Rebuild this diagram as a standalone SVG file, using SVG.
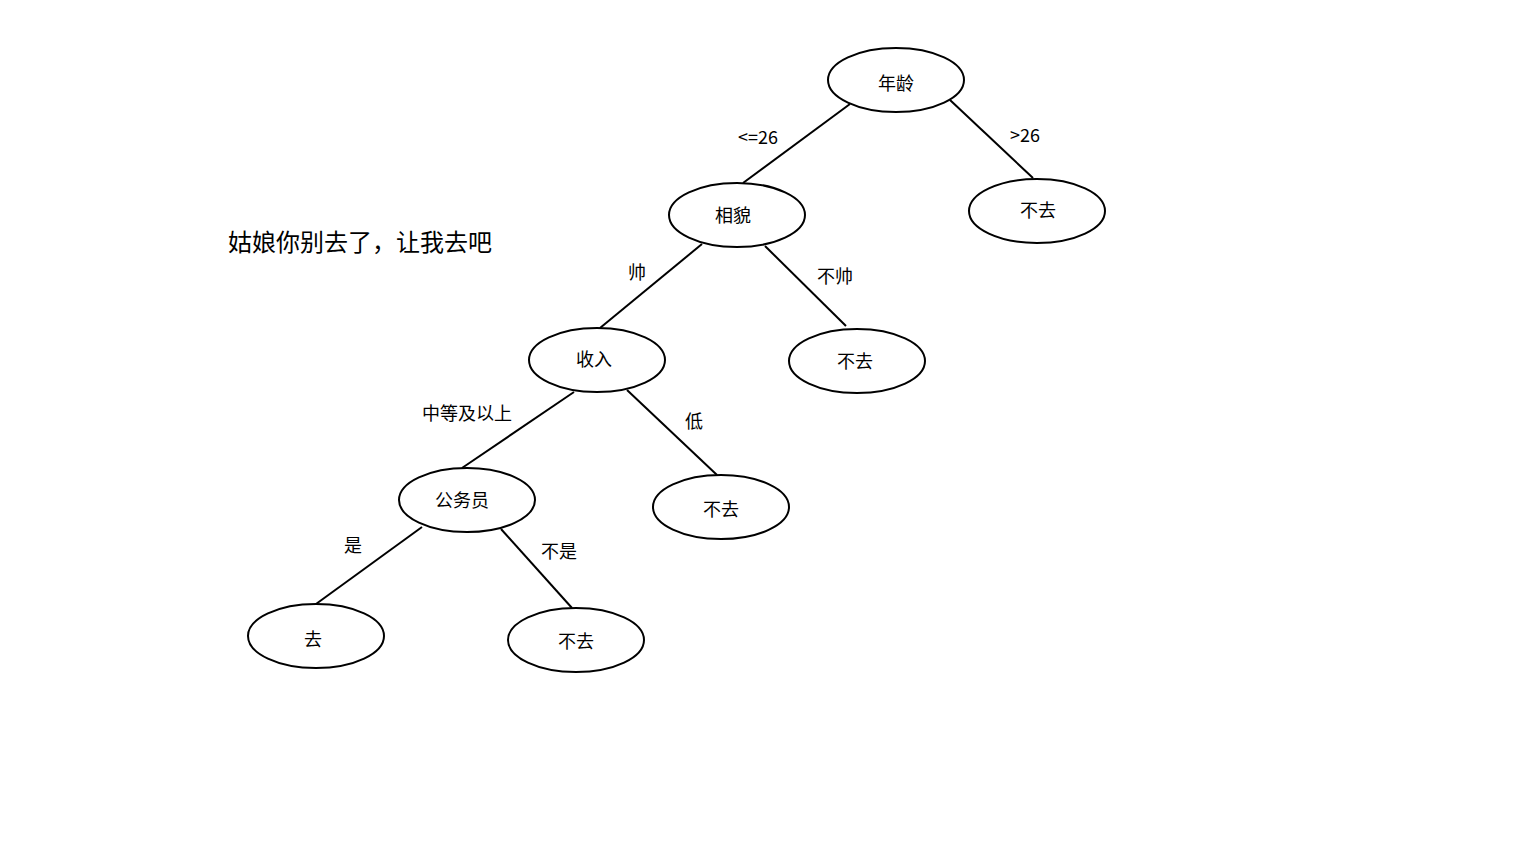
<svg xmlns="http://www.w3.org/2000/svg" width="1536" height="864" viewBox="0 0 1536 864">
<style>
.n{fill:#fff;stroke:#000;stroke-width:2}
.e{stroke:#000;stroke-width:2;fill:none}
text{font-family:"Noto Sans CJK SC","Noto Sans",sans-serif;font-size:18px;fill:#000}
.c{text-anchor:middle;dominant-baseline:central}
.t{font-size:24px}
</style>
<rect width="1536" height="864" fill="#fff"/>
<g id="connectors">
<line class="e" x1="850" y1="104" x2="743" y2="183"/>
<line class="e" x1="950" y1="100" x2="1033" y2="178"/>
<line class="e" x1="702" y1="244" x2="600" y2="328"/>
<line class="e" x1="765" y1="246" x2="846" y2="326"/>
<line class="e" x1="574" y1="392" x2="462" y2="468"/>
<line class="e" x1="627" y1="390" x2="717" y2="475"/>
<line class="e" x1="422" y1="527" x2="316" y2="604"/>
<line class="e" x1="501" y1="529" x2="572" y2="608"/>
<text class="c" x="758" y="136">&lt;=26</text>
<text class="c" x="1025" y="134">&gt;26</text>
<text class="c" x="637" y="271">帅</text>
<text class="c" x="835" y="275">不帅</text>
<text class="c" x="467" y="412">中等及以上</text>
<text class="c" x="694" y="420">低</text>
<text class="c" x="353" y="544">是</text>
<text class="c" x="559" y="550">不是</text>
</g>
<g id="n_age"><ellipse class="n" cx="896" cy="80" rx="68" ry="32"/><text class="c" x="896" y="82">年龄</text></g>
<g id="n_looks"><ellipse class="n" cx="737" cy="215" rx="68" ry="32"/><text class="c" x="733" y="214">相貌</text></g>
<g id="n_no1"><ellipse class="n" cx="1037" cy="211" rx="68" ry="32"/><text class="c" x="1038" y="209">不去</text></g>
<g id="n_income"><ellipse class="n" cx="597" cy="360" rx="68" ry="32"/><text class="c" x="594" y="358">收入</text></g>
<g id="n_no2"><ellipse class="n" cx="857" cy="361" rx="68" ry="32"/><text class="c" x="855" y="360">不去</text></g>
<g id="n_civil"><ellipse class="n" cx="467" cy="500" rx="68" ry="32"/><text class="c" x="462" y="499">公务员</text></g>
<g id="n_no3"><ellipse class="n" cx="721" cy="507" rx="68" ry="32"/><text class="c" x="721" y="508">不去</text></g>
<g id="n_go"><ellipse class="n" cx="316" cy="636" rx="68" ry="32"/><text class="c" x="313" y="638">去</text></g>
<g id="n_no4"><ellipse class="n" cx="576" cy="640" rx="68" ry="32"/><text class="c" x="576" y="640">不去</text></g>
<text class="t" x="228" y="251">姑娘你别去了，让我去吧</text>
</svg>
